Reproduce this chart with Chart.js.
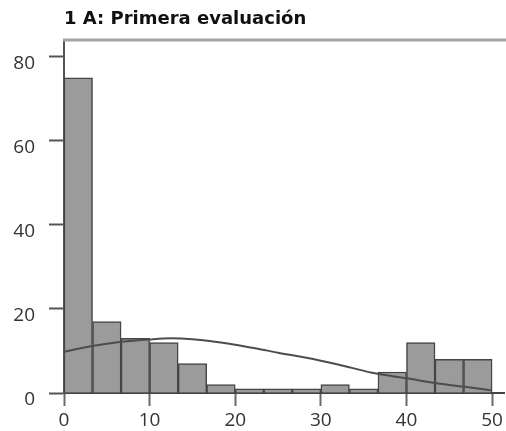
<!DOCTYPE html>
<html>
<head>
<meta charset="utf-8">
<script src="https://cdn.jsdelivr.net/npm/chart.js@4"></script>
<style>
  html, body { margin: 0; padding: 0; background: #fff; }
  #chart { display: block; }
</style>
</head>
<body>
<canvas id="chart" width="506" height="431"></canvas>
<script>
// histogram: 15 bins from 0 to 50
const binWidth = 50 / 15
const counts = [75, 17, 13, 12, 7, 2, 1, 1, 1, 2, 1, 5, 12, 8, 8]

// fitted curve
const curveX = [0, 3.3, 6.7, 10, 12.5, 15, 17, 20, 22.5, 25, 28, 32, 36, 40, 43.5, 47, 50]
const curveY = [9.8, 11.2, 12.2, 12.75, 13, 12.8, 12.4, 11.5, 10.6, 9.6, 8.5, 6.8, 4.8, 3.5, 2.3, 1.4, 0.6]

const xTicks = [0, 10, 20, 30, 40, 50]
const yTicks = [0, 20, 40, 60, 80]

const titleText = '1 A: Primera evaluación'

const bars = counts.map(function (c, i) {
    return { x: (i + 0.5) * binWidth, y: c }
})
const curve = curveX.map(function (x, i) {
    return { x: x, y: curveY[i] }
})

// grey line along the top of the plot
const topLine = {
    id: 'topLine',
    afterDraw(chart) {
        const ctx = chart.ctx
        const area = chart.chartArea
        ctx.save()
        ctx.strokeStyle = '#a3a3a3'
        ctx.lineWidth = 3
        ctx.beginPath()
        ctx.moveTo(area.left - 1, area.top)
        ctx.lineTo(chart.width, area.top)
        ctx.stroke()
        ctx.restore()
    }
}

Chart.defaults.font.family = '"Open Sans", sans-serif'
Chart.defaults.color = '#333'

new Chart(document.getElementById('chart'), {
    data: {
        datasets: [{
            type: 'line',
            data: curve,
            borderColor: '#4d4d4d',
            borderWidth: 2,
            pointRadius: 0,
            cubicInterpolationMode: 'monotone',
            order: 0
        }, {
            type: 'bar',
            data: bars,
            backgroundColor: '#9b9b9b',
            borderColor: '#454545',
            borderWidth: 1.5,
            barPercentage: 1,
            categoryPercentage: 1,
            order: 1
        }]
    },
    options: {
        responsive: false,
        animation: false,
        devicePixelRatio: 1,
        layout: { padding: 0 },
        plugins: {
            legend: { display: false },
            tooltip: { enabled: false },
            title: {
                display: true,
                text: titleText,
                align: 'start',
                fullSize: false,
                color: '#111',
                font: { family: '"DejaVu Sans", sans-serif', size: 18, weight: 'bold', lineHeight: 1.25 },
                padding: { top: 8.5, bottom: 9 }
            }
        },
        scales: {
            x: {
                type: 'linear',
                min: 0,
                max: 51.5,
                offset: false,
                afterBuildTicks: (scale) => { scale.ticks = xTicks.map(v => ({ value: v })) },
                afterFit: (scale) => { scale.height = 38 },
                grid: {
                    drawOnChartArea: false,
                    offset: false,
                    tickLength: 13,
                    tickColor: '#6a6a6a',
                    tickWidth: 2
                },
                border: { color: '#444', width: 2 },
                ticks: { padding: 3, maxRotation: 0, font: { size: 19 } }
            },
            y: {
                min: 0,
                max: 84,
                afterBuildTicks: (scale) => { scale.ticks = yTicks.map(v => ({ value: v })) },
                afterFit: (scale) => { scale.width = 64 },
                grid: {
                    drawOnChartArea: false,
                    tickLength: 15,
                    tickColor: '#555',
                    tickWidth: 2
                },
                border: { color: '#555', width: 2 },
                ticks: { padding: 14, labelOffset: 7, font: { size: 19 } }
            }
        }
    },
    plugins: [topLine]
})
</script>
</body>
</html>
